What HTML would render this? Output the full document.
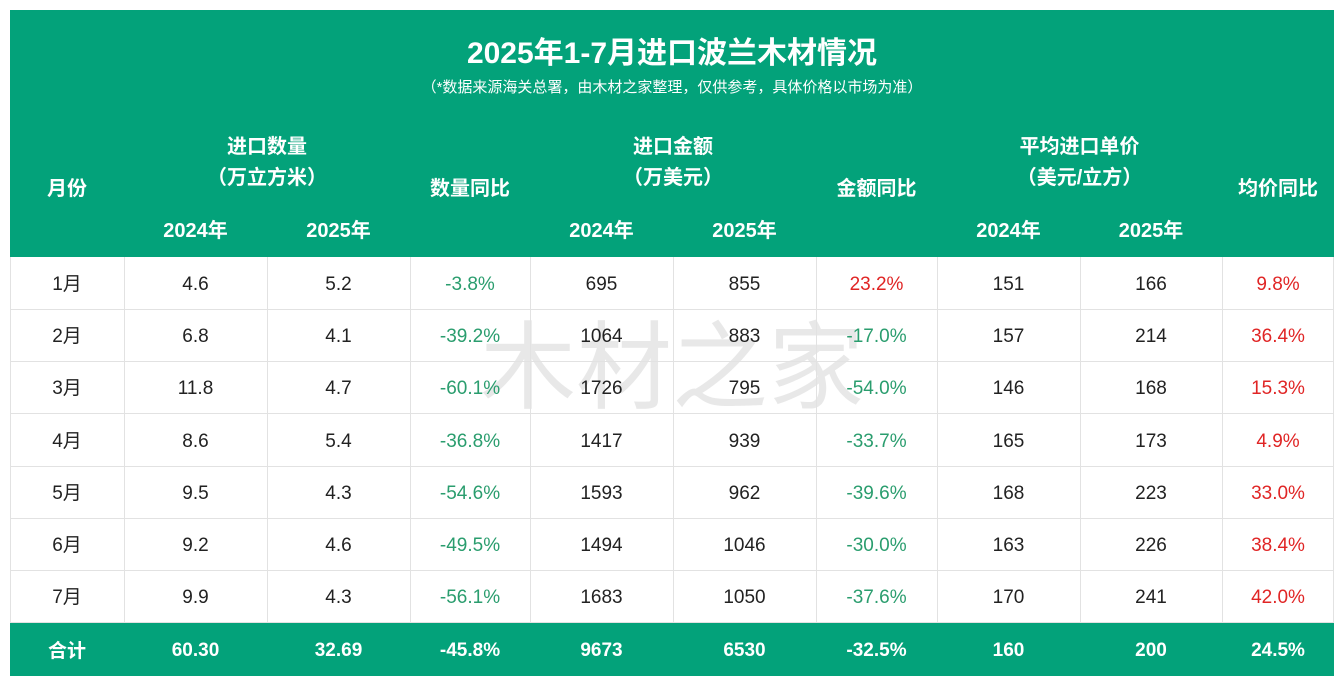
<!DOCTYPE html><html><head><meta charset="utf-8"><style>
body{margin:0;width:1344px;height:686px;background:#fff;position:relative;overflow:hidden;font-family:"Liberation Sans","Noto Sans CJK SC",sans-serif}
.a{position:absolute;text-align:center;white-space:nowrap}
.hd{position:absolute;left:10px;top:10px;width:1324px;height:247px;background:#03a27a}
.tot{position:absolute;left:10px;top:622px;width:1324px;height:54px;background:#03a27a}
.w{color:#fff;font-weight:bold}
.vl{position:absolute;width:1px;background:#e2e2e2;top:257px;height:365px}
.hl{position:absolute;left:10px;width:1324px;height:1px;background:#e2e2e2}
.c{font-size:19px;color:#222}
.g{color:#2a9d6e}.r{color:#e02525}
</style></head><body>
<div class="hd"></div><div class="tot"></div>
<div class="a w" style="left:0;width:1344px;top:28px;font-size:30px">2025年1-7月进口波兰木材情况</div>
<div class="a" style="left:0;width:1344px;top:76px;font-size:15px;color:#fff">（*数据来源海关总署，由木材之家整理，仅供参考，具体价格以市场为准）</div>
<div class="a w" style="left:10px;width:114px;top:172px;font-size:20px">月份</div>
<div class="a w" style="left:124px;width:286px;top:132px;font-size:20px;line-height:31px">进口数量<br>（万立方米）</div>
<div class="a w" style="left:410px;width:120px;top:172px;font-size:20px">数量同比</div>
<div class="a w" style="left:530px;width:286px;top:132px;font-size:20px;line-height:31px">进口金额<br>（万美元）</div>
<div class="a w" style="left:816px;width:121px;top:172px;font-size:20px">金额同比</div>
<div class="a w" style="left:937px;width:285px;top:132px;font-size:20px;line-height:31px">平均进口单价<br>（美元/立方）</div>
<div class="a w" style="left:1222px;width:112px;top:172px;font-size:20px">均价同比</div>
<div class="a w" style="left:124px;width:143px;top:214px;font-size:20px">2024年</div>
<div class="a w" style="left:267px;width:143px;top:214px;font-size:20px">2025年</div>
<div class="a w" style="left:530px;width:143px;top:214px;font-size:20px">2024年</div>
<div class="a w" style="left:673px;width:143px;top:214px;font-size:20px">2025年</div>
<div class="a w" style="left:937px;width:143px;top:214px;font-size:20px">2024年</div>
<div class="a w" style="left:1080px;width:142px;top:214px;font-size:20px">2025年</div>
<div class="a" style="left:0;width:1344px;top:290px;font-size:96px;color:rgba(0,0,0,0.09)">木材之家</div>
<div id="t"></div>
<script>
const cols=[10,124,267,410,530,673,816,937,1080,1222,1334];
const rows=[["1月","4.6","5.2","-3.8%","695","855","23.2%","151","166","9.8%"],
["2月","6.8","4.1","-39.2%","1064","883","-17.0%","157","214","36.4%"],
["3月","11.8","4.7","-60.1%","1726","795","-54.0%","146","168","15.3%"],
["4月","8.6","5.4","-36.8%","1417","939","-33.7%","165","173","4.9%"],
["5月","9.5","4.3","-54.6%","1593","962","-39.6%","168","223","33.0%"],
["6月","9.2","4.6","-49.5%","1494","1046","-30.0%","163","226","38.4%"],
["7月","9.9","4.3","-56.1%","1683","1050","-37.6%","170","241","42.0%"]];
let h="";
for(let i=1;i<10;i++)h+=`<div class="vl" style="left:${cols[i]}px"></div>`;
for(let r=0;r<7;r++){const top=257+r*52.2;
 h+=`<div class="hl" style="top:${Math.round(top+52)}px"></div>`;
 rows[r].forEach((v,j)=>{let cl="c";if(j==3)cl+=" g";if(j==6||j==9)cl+=v.startsWith("-")?" g":" r";
 const dy=j==0?12:17;
 h+=`<div class="a ${cl}" style="left:${cols[j]}px;width:${cols[j+1]-cols[j]}px;top:${Math.round(top+dy)}px">${v}</div>`;});}
h+=`<div class="hl" style="top:257px;left:10px;width:1px;height:365px"></div><div class="hl" style="top:257px;left:1333px;width:1px;height:365px"></div>`;
const t=["合计","60.30","32.69","-45.8%","9673","6530","-32.5%","160","200","24.5%"];
t.forEach((v,j)=>{h+=`<div class="a w" style="font-size:19px;left:${cols[j]}px;width:${cols[j+1]-cols[j]}px;top:${j==0?636:640}px">${v}</div>`;});
document.getElementById("t").innerHTML=h;
</script>
</body></html>
